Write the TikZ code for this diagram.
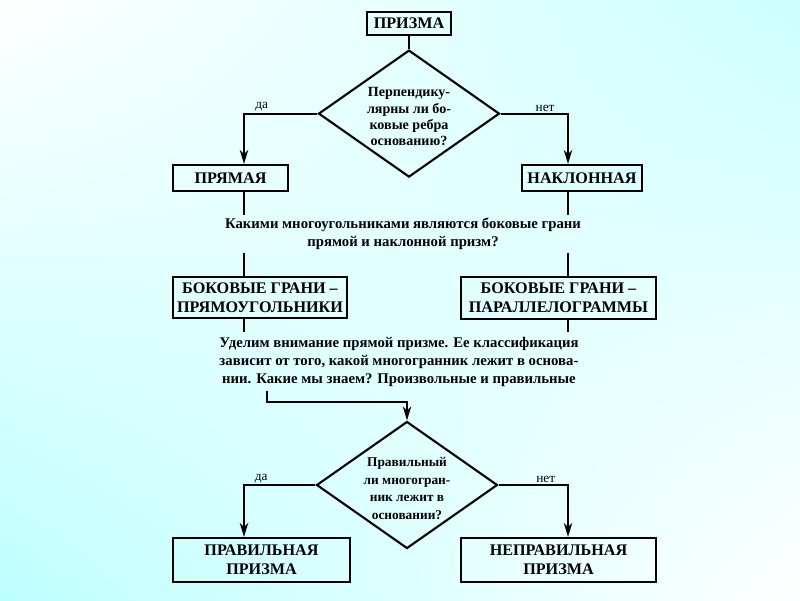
\documentclass[tikz,border=0pt]{standalone}
\usepackage{fontspec}
\setmainfont{Liberation Serif}
\usetikzlibrary{shapes.geometric, arrows.meta, positioning, calc, shadings}

\newcommand{\dtext}[1]{\makebox[0pt]{\smash{\raisebox{-5.5pt}{\begin{tabular}{@{}c@{}}#1\end{tabular}}}}}

\begin{document}
\begin{tikzpicture}[>={Stealth[length=10pt,width=6pt,inset=3pt]}]

% Styles
\tikzstyle{block} = [rectangle, draw=black, line width=1.5pt, inner sep=1pt, align=center, font=\fontsize{11.5}{13.5}\selectfont\bfseries]
\tikzstyle{decision} = [diamond, draw=black, line width=1.5pt, inner sep=0pt, minimum width=4.525cm, minimum height=3.175cm]
\tikzstyle{remark} = [align=center, inner xsep=0pt, font=\fontsize{10.5}{12.8}\selectfont\bfseries]
\tikzstyle{answer} = [above, inner sep=1pt, font=\fontsize{9.5}{11}\selectfont]
\tikzstyle{arrow} = [line width=1.4pt,->]
\tikzstyle{line} = [line width=1.4pt,-]

% Background
\shade[upper left=white, upper right=cyan!20, lower left=cyan!26, lower right=white] (0,0) rectangle (20,-15);
\useasboundingbox (0,0) rectangle (20,-15);

% Columns of the two branches
\coordinate (colL) at (6.1,0);
\coordinate (colR) at (14.2,0);
\coordinate (turn) at (6.675,-10.05);

% --- Nodes ---

% 1. Prism and first question
\node (prizma) [block, minimum width=2.1cm, minimum height=0.575cm] at (10.225,-0.5875) {ПРИЗМА};
\node (q1) [decision, below=0.325cm of prizma, font=\fontsize{10}{11.4}\selectfont\bfseries] {\dtext{Перпендику-\\лярны ли бо-\\ковые ребра\\основанию?}};

% 2. Right and oblique
\node (pryam) [block, minimum width=2.875cm, minimum height=0.65cm] at (5.7625,-4.45) {ПРЯМАЯ};
\node (naklon) [block, minimum width=3cm, minimum height=0.65cm] at (14.55,-4.45) {НАКЛОННАЯ};

\node (quest) [remark, inner ysep=2pt] at (10.075,-5.85) {Какими многоугольниками являются боковые грани\\прямой и наклонной призм?};

% 3. Lateral faces
\node (bokL) [block, minimum width=4.35cm, minimum height=1.025cm] at (6.5,-7.4375) {БОКОВЫЕ ГРАНИ –\\ПРЯМОУГОЛЬНИКИ};
\node (bokR) [block, minimum width=4.875cm, minimum height=1.05cm] at (13.9625,-7.45) {БОКОВЫЕ ГРАНИ –\\ПАРАЛЛЕЛОГРАММЫ};

\node (para) [remark, inner ysep=3pt] at (9.975,-9.0375) {Уделим внимание прямой призме. Ее классификация\\зависит от того, какой многогранник лежит в основа-\\нии. Какие мы знаем? Произвольные и правильные};

% 4. Second question and result
\node (q2) [decision, font=\fontsize{9.5}{12.5}\selectfont\bfseries] at (10.175,-12.125) {\dtext{Правильный\\ли многогран-\\ник лежит в\\основании?}};

\node (pravL) [block, minimum width=4.425cm, minimum height=1.1cm] at (6.5375,-14) {ПРАВИЛЬНАЯ\\ПРИЗМА};
\node (pravR) [block, minimum width=4.875cm, minimum height=1.1cm] at (13.9625,-14) {НЕПРАВИЛЬНАЯ\\ПРИЗМА};

% --- Arrows ---
\draw[line] (prizma) -- (q1);
\draw[arrow] (q1.west) -| node[answer, pos=0.38] {да} (pryam.north -| colL);
\draw[arrow] (q1.east) -| node[answer, pos=0.33] {нет} (naklon.north -| colR);

\draw[line] (pryam.south -| colL) -- (quest.north -| colL);
\draw[line] (naklon.south -| colR) -- (quest.north -| colR);
\draw[line] (quest.south -| colL) -- (bokL.north -| colL);
\draw[line] (quest.south -| colR) -- (bokR.north -| colR);
\draw[line] (bokL.south -| colL) -- (para.north -| colL);
\draw[line] (bokR.south -| colR) -- (para.north -| colR);

\draw[arrow] (para.south -| turn) -- (turn) -| (q2.north);
\draw[arrow] (q2.west) -| node[answer, pos=0.38] {да} (pravL.north -| colL);
\draw[arrow] (q2.east) -| node[answer, pos=0.34] {нет} (pravR.north -| colR);

\end{tikzpicture}
\end{document}
